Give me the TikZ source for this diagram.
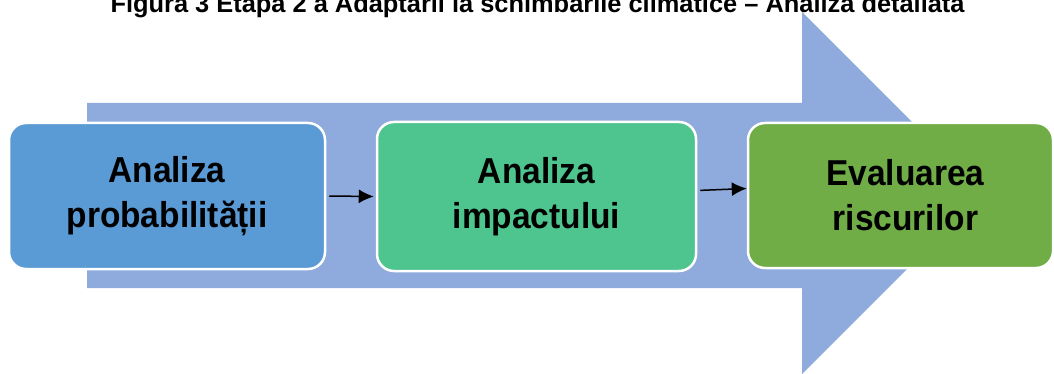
\documentclass[tikz,border=0pt]{standalone}
\usepackage{fontspec}
\setmainfont{Liberation Sans}
\newfontfamily\stepfont[FakeStretch=0.93]{Liberation Sans}
\usepackage{tikz}
\usetikzlibrary{arrows.meta}
\definecolor{bandblue}{RGB}{143,170,220}
\definecolor{stepblue}{RGB}{91,155,213}
\definecolor{stepmint}{RGB}{78,197,142}
\definecolor{stepgreen}{RGB}{112,173,71}

\begin{document}
\begin{tikzpicture}[x=1pt,y=-1pt,
  stepbox/.style={draw=white, line width=2.5pt, rounded corners=17pt, align=center,
    font=\stepfont\fontsize{36}{45}\selectfont\bfseries, inner sep=0pt}]

% Page frame and clip (title is cut at the top)
\useasboundingbox (0,0) rectangle (1054,374);
\clip (0,0) rectangle (1054,374);

% Title
\node[anchor=base west, font=\fontsize{25.4}{30}\selectfont\bfseries] (title) at (107,13)
  {Figura 3 Etapa 2 a Adaptarii la schimbarile climatice -- Analiza detaliata};

% Big arrow behind the steps
\fill[bandblue] (87,103) -- (802,103) -- (802,12) -- (983,193) -- (802,374)
  -- (802,288) -- (87,288) -- cycle;

% Steps
\node[stepbox, fill=stepblue, minimum width=316, minimum height=146] (prob) at (167,196)
  {Analiza\\probabilității};
\node[stepbox, fill=stepmint, minimum width=319, minimum height=149] (imp) at (536.5,196.5)
  {Analiza\\impactului};
\node[stepbox, fill=stepgreen, minimum width=305, minimum height=145] (eval) at (900.5,195.5)
  {\hspace*{10pt}Evaluarea\\\hspace*{10pt}riscurilor};

% Connectors
\draw[line width=1.5pt, -{Latex[length=15pt,width=14pt]}, shorten <=3pt, shorten >=2pt]
  (prob.east) -- (imp.west);
\draw[line width=1.5pt, -{Latex[length=15pt,width=14pt]}, shorten <=3pt]
  ([yshift=6pt]imp.east) -- ([yshift=7pt]eval.west);

\end{tikzpicture}
\end{document}
